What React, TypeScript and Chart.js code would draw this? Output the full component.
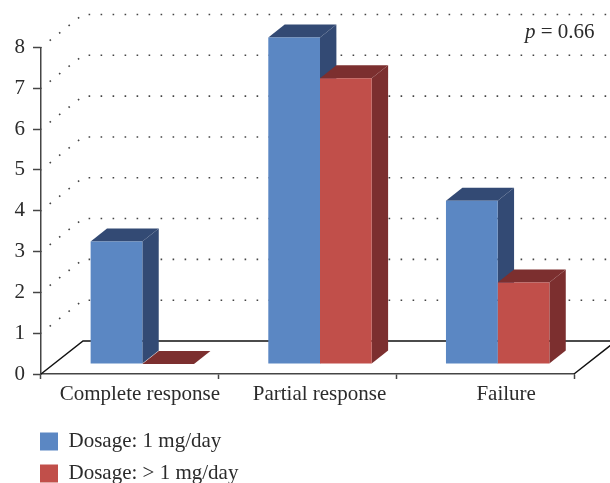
import React, { useEffect, useRef } from "react";
import { Chart, registerables } from "chart.js";

Chart.register(...registerables);

const categories = ["Complete response", "Partial response", "Failure"];
const lowDose = [3, 8, 4];
const highDose = [0, 7, 2];
const seriesNames = ["Dosage: 1 mg/day", "Dosage: > 1 mg/day"];

const FONT = "'Liberation Serif', serif";
const TEXT = "#2b2b2b";
const AXIS = "#454545";
const FILL = ["#5b87c3", "#c14f4a"];
const DARK = ["#334a74", "#7c2f2f"];
const BAR_SHIFT = { x: 12.5, y: -10 };
const DEPTH = { x: 16.4, y: -13 };
const WALL = { x: 42, y: -33 };
const LABEL_SHIFTS = [10, 12, 21];

const scene = {
  id: "scene",
  beforeDatasetsDraw(chart: any) {
    const { ctx, chartArea, scales } = chart;
    const y = scales.y;
    const w = chart.width;
    ctx.save();
    ctx.lineCap = "butt";
    ctx.strokeStyle = "#444";
    ctx.lineWidth = 1.6;
    ctx.setLineDash([1.6, 10.4]);
    ctx.lineDashOffset = 1;
    for (const tick of y.ticks) {
      if (tick.value === 0) continue;
      const py = y.getPixelForValue(tick.value);
      ctx.beginPath();
      ctx.moveTo(chartArea.left, py);
      ctx.lineTo(chartArea.left + WALL.x, py + WALL.y);
      ctx.lineTo(w, py + WALL.y);
      ctx.stroke();
    }
    ctx.setLineDash([]);
    const base = y.getPixelForValue(0);
    ctx.strokeStyle = "#111";
    ctx.lineWidth = 1.5;
    ctx.beginPath();
    ctx.moveTo(chartArea.left, base);
    ctx.lineTo(chartArea.left + WALL.x, base + WALL.y);
    ctx.lineTo(w, base + WALL.y);
    ctx.moveTo(chartArea.right, base);
    ctx.lineTo(chartArea.right + WALL.x, base + WALL.y);
    ctx.stroke();

    // side and top faces: first series first, so the second overlaps it
    ctx.translate(BAR_SHIFT.x, BAR_SHIFT.y);
    [0, 1].forEach((index) => {
      ctx.fillStyle = DARK[index];
      for (const bar of chart.getDatasetMeta(index).data as any[]) {
        const l = bar.x - bar.width / 2;
        const r = bar.x + bar.width / 2;
        const top = bar.y;
        const bottom = bar.base;
        ctx.beginPath();
        ctx.moveTo(r, top);
        ctx.lineTo(r + DEPTH.x, top + DEPTH.y);
        ctx.lineTo(r + DEPTH.x, bottom + DEPTH.y);
        ctx.lineTo(r, bottom);
        ctx.closePath();
        ctx.fill();
        ctx.beginPath();
        ctx.moveTo(l, top);
        ctx.lineTo(l + DEPTH.x, top + DEPTH.y);
        ctx.lineTo(r + DEPTH.x, top + DEPTH.y);
        ctx.lineTo(r, top);
        ctx.closePath();
        ctx.fill();
      }
    });
    ctx.restore();
  },
  beforeDatasetDraw(chart: any) {
    chart.ctx.save();
    chart.ctx.translate(BAR_SHIFT.x, BAR_SHIFT.y);
  },
  afterDatasetDraw(chart: any) {
    chart.ctx.restore();
  },
  afterLayout(chart: any) {
    const lg = chart.legend;
    if (lg) {
      lg.left = 29;
      lg.top = 420;
      lg.right = 400;
      lg.bottom = 520;
      lg.width = 371;
      lg.height = 100;
    }
  },
  beforeDraw(chart: any) {
    const x = chart.scales.x;
    x.getLabelItems(chart.chartArea).forEach((item: any, i: number) => {
      item.options.translation[0] = x.getPixelForTick(i) + LABEL_SHIFTS[i];
    });
  },
  afterDraw(chart: any) {
    const { ctx } = chart;
    ctx.save();
    ctx.fillStyle = TEXT;
    ctx.textBaseline = "alphabetic";
    ctx.textAlign = "left";
    ctx.font = `italic 21px ${FONT}`;
    ctx.fillText("p", 525, 38);
    const pw = ctx.measureText("p ").width;
    ctx.font = `21px ${FONT}`;
    ctx.fillText("= 0.66", 525 + pw, 38);
    ctx.restore();
  },
};

export default function App() {
  const ref = useRef<HTMLCanvasElement>(null);
  useEffect(() => {
    const chart = new Chart(ref.current!, {
      type: "bar",
      data: {
        labels: categories,
        datasets: [
          { label: seriesNames[0], data: lowDose, backgroundColor: FILL[0], borderWidth: 0, clip: false },
          { label: seriesNames[1], data: highDose, backgroundColor: FILL[1], borderWidth: 0, clip: false },
        ],
      } as any,
      options: {
        animation: false,
        responsive: false,
        devicePixelRatio: 1,
        layout: { padding: { top: 47.5, right: 36, left: 0, bottom: 0 } },
        datasets: { bar: { categoryPercentage: 0.582, barPercentage: 1 } },
        plugins: {
          title: { display: false },
          tooltip: { enabled: false },
          legend: {
            display: true,
            position: "chartArea",
            align: "start",
            labels: {
              boxWidth: 18,
              boxHeight: 18,
              padding: 11,
              color: TEXT,
              font: { family: FONT, size: 21 },
            },
          },
        },
        scales: {
          x: {
            afterFit(s: any) {
              s.height = 109;
            },
            grid: { drawOnChartArea: false, drawTicks: true, tickLength: 5, tickColor: AXIS, tickWidth: 1.5 },
            border: { color: AXIS, width: 1.5 },
            ticks: { color: TEXT, font: { family: FONT, size: 21 }, padding: 3, maxRotation: 0 },
          },
          y: {
            min: 0,
            max: 8,
            afterFit(s: any) {
              s.width = 41;
            },
            grid: { drawOnChartArea: false, drawTicks: true, tickLength: 8, tickColor: AXIS, tickWidth: 1.5 },
            border: { color: AXIS, width: 1.5 },
            ticks: { stepSize: 1, color: TEXT, font: { family: FONT, size: 21 }, padding: 8 },
          },
        },
      } as any,
      plugins: [scene],
    });
    return () => chart.destroy();
  }, []);
  return (
    <div style={{ position: "fixed", left: 0, top: 0, width: 610, height: 483 }}>
      <canvas ref={ref} width={610} height={483} style={{ display: "block" }} />
    </div>
  );
}
